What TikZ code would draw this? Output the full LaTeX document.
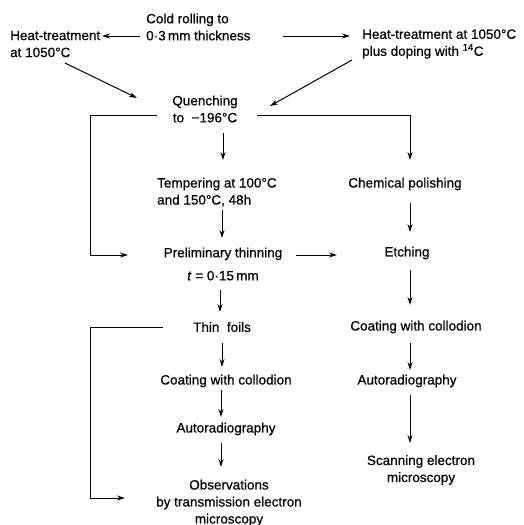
\documentclass[tikz,border=0pt]{standalone}
\usepackage{fontspec}
\setmainfont{Liberation Sans}[FakeBold=0.6]
\usetikzlibrary{arrows.meta,calc}
\begin{document}
\begin{tikzpicture}[x=1pt,y=-1pt,
  txt/.style={inner sep=0pt,font=\fontsize{13.5}{17}\selectfont},
  arr/.style={-{Stealth[length=8pt,width=5pt]},line width=1pt},
  ln/.style={line width=1pt}]
\useasboundingbox (0,0) rectangle (523,525);
% nodes
\node[txt,anchor=west,align=left] (cold) at (146,27) {Cold rolling to\\0·3\,mm thickness};
\node[txt,anchor=west,align=left] (heatL) at (10,44) {Heat-treatment\\at 1050°C};
\node[txt,anchor=west,align=left] (heatR) at (362,44) {Heat-treatment at 1050°C\\plus doping with \textsuperscript{14}C};
\node[txt,align=center] (quench) at (205,109) {Quenching\\to\ \ −196°C};
\node[txt,anchor=west,align=left] (temper) at (157,192) {Tempering at 100°C\\and 150°C, 48h};
\node[txt] (chem) at (405,184) {Chemical polishing};
\node[txt,align=center] (prelim) at (223,264) {Preliminary thinning\\[6pt]\textit{t} = 0·15\,mm};
\node[txt] (etch) at (407,253) {Etching};
\node[txt] (thin) at (222,327) {Thin\ \ foils};
\node[txt] (coatR) at (416,327) {Coating with collodion};
\node[txt] (coatL) at (226,381) {Coating with collodion};
\node[txt] (autoR) at (407,381) {Autoradiography};
\node[txt] (autoL) at (226,429) {Autoradiography};
\node[txt,align=center] (scan) at (421,470) {Scanning electron\\microscopy};
\node[txt,align=center] (obs) at (229,503) {Observations\\by transmission electron\\microscopy};
% connectors
\draw[arr] ($(cold.west)+(-6,9)$) -- ($(heatL.west)+(92,-8)$);
\draw[arr] ($(cold.west)+(137,9)$) -- ($(heatR.west)+(-12,-8)$);
\draw[arr] ($(heatL.west)+(55,19)$) -- ($(quench)+(-68,-11)$);
\draw[arr] ($(heatR.west)+(-10,16)$) -- ($(quench)+(65,-3)$);
\draw[arr] ($(quench)+(-48,6)$) -| ($(prelim)+(-133,-9)$) -- ($(prelim)+(-95,-9)$);
\draw[arr] ($(quench)+(52,6)$) -| ($(chem)+(5,-24)$);
\draw[arr] ($(quench)+(18,24)$) -- ($(temper.west)+(66,-32)$);
\draw[arr] ($(chem)+(5,19)$) -- ($(etch)+(3,-21)$);
\draw[arr] ($(temper.west)+(65,18)$) -- ($(prelim)+(-1,-26)$);
\draw[arr] ($(prelim)+(73,-9)$) -- ($(etch)+(-70,2)$);
\draw[arr] ($(etch)+(3,17)$) -- ($(coatR)+(-6,-22)$);
\draw[arr] ($(prelim)+(-3,26)$) -- ($(thin)+(-2,-15)$);
\draw[arr] ($(thin)+(-59,0)$) -| ($(obs)+(-139,-5)$) -- ($(obs)+(-104,-5)$);
\draw[arr] ($(thin)+(0,16)$) -- ($(coatL)+(-4,-14)$);
\draw[arr] ($(coatR)+(-6,16)$) -- ($(autoR)+(3,-11)$);
\draw[arr] ($(coatL)+(-5,9)$) -- ($(autoL)+(-5,-12)$);
\draw[arr] ($(autoL)+(-5,14)$) -- ($(obs)+(-8,-36)$);
\draw[arr] ($(autoR)+(3,14)$) -- ($(scan)+(-11,-27)$);
\end{tikzpicture}
\end{document}
